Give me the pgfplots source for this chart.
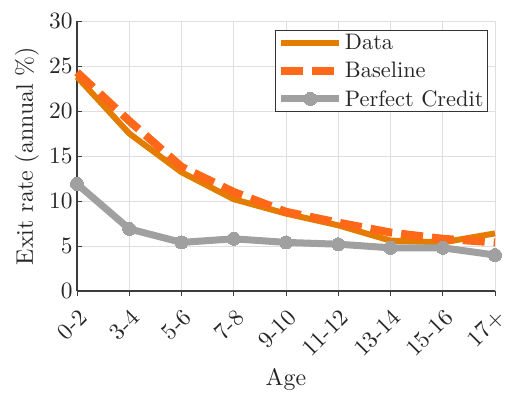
\documentclass[border=0pt]{standalone}
\usepackage{fontspec}
\setmainfont{lmroman10-regular}[Extension=.otf]
\usepackage{pgfplots}
\pgfplotsset{compat=1.18}

\definecolor{dataorange}{RGB}{228,124,0}
\definecolor{baseorange}{RGB}{255,104,24}
\definecolor{pcgray}{RGB}{160,160,160}
\definecolor{axgray}{RGB}{60,60,60}

\begin{document}
\begin{tikzpicture}
\begin{axis}[
  name=ax,
  scale only axis,
  width=418bp, height=270bp,
  xmin=0, xmax=8, ymin=0, ymax=30,
  xtick={0,...,8},
  xticklabels={0-2,3-4,5-6,7-8,9-10,11-12,13-14,15-16,17+},
  ytick={0,5,...,30},
  axis x line*=bottom, axis y line*=left,
  axis line style={axgray, line width=1.2bp, -},
  tick style={axgray, line width=1bp},
  major tick length=5bp,
  xtick align=outside, ytick align=inside,
  grid=major,
  major grid style={gray!25, line width=0.8bp},
  /pgf/number format/assume math mode=true,
  tick label style={font=\fontsize{23.5}{28}\selectfont, text=black!85},
  yticklabel style={xshift=-1bp},
  xticklabel style={rotate=45, anchor=east, xshift=-7bp, yshift=-17bp, inner sep=1bp},
  label style={font=\fontsize{24}{29}\selectfont, text=black!85},
  xlabel={Age},
  ylabel={Exit rate (annual \%)},
  xlabel style={at={(axis description cs:0.5,0)}, anchor=base, yshift=-94.5bp},
  ylabel style={at={(axis description cs:0,0.5)}, anchor=base, yshift=44bp},
  legend style={
    at={(1,1)}, anchor=north east, xshift=-7bp, yshift=-9bp,
    draw=black!80, line width=0.8bp,
    font=\fontsize{22.5}{27}\selectfont, text=black!85,
    inner sep=2.5bp, row sep=8bp,
    nodes={inner sep=1.5bp},
  },
  legend cell align=left,
  legend image code/.code={
    \draw[mark repeat=2, mark phase=2]
      plot coordinates {(0bp,0bp) (29bp,0bp) (58bp,0bp)};
  },
  clip=false,
]
% Observed exit rates
\addplot[dataorange, line width=6bp, line join=round] coordinates {
  (0,23.8) (1,17.5) (2,13.2) (3,10.2) (4,8.6) (5,7.3) (6,5.6) (7,5.4) (8,6.4)
};
\addlegendentry{Data}
% Model: baseline calibration
\addplot[baseorange, line width=8bp, dash pattern=on 22bp off 9bp] coordinates {
  (0,24.3) (1,18.9) (2,13.8) (3,11.0) (4,8.8) (5,7.6) (6,6.5) (7,5.8) (8,5.4)
};
\addlegendentry{Baseline}
% Model: no financial frictions
\addplot[pcgray, line width=7bp, mark=*, mark size=6.5bp,
  mark options={fill=pcgray, draw=pcgray, line width=0bp}] coordinates {
  (0,11.9) (1,6.9) (2,5.4) (3,5.8) (4,5.4) (5,5.2) (6,4.8) (7,4.8) (8,4.0)
};
\addlegendentry{Perfect Credit}
\end{axis}
\pgfresetboundingbox
\path ([shift={(-77bp,-101.5bp)}]ax.south west)
  rectangle ([shift={(13bp,21bp)}]ax.north east);
\end{tikzpicture}
\end{document}
